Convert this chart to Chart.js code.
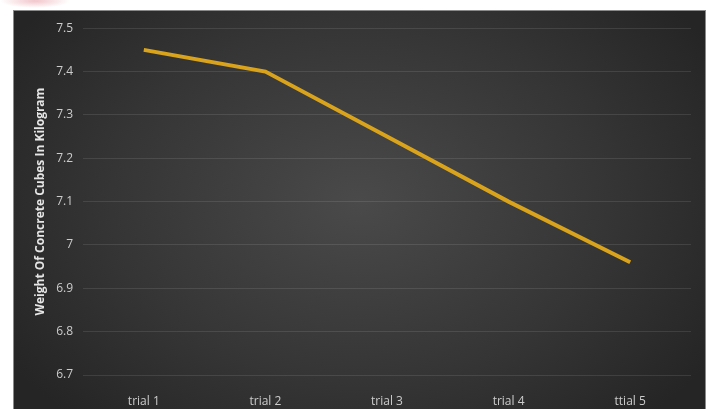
<!DOCTYPE html>
<html>
<head>
<meta charset="utf-8">
<script src="https://cdn.jsdelivr.net/npm/chart.js@4"></script>
<style>
    html, body { margin: 0; padding: 0; background: #fff; width: 709px; height: 409px; overflow: hidden; }
    #smudge {
        position: absolute; left: 0; top: -6px; width: 70px; height: 14px;
        background: radial-gradient(ellipse at center, rgba(230,150,160,0.55), rgba(255,255,255,0) 70%);
    }
    #panel {
        position: absolute; left: 13px; top: 10px; width: 693px; height: 399px;
        background: radial-gradient(ellipse 60% 75% at 50% 48%, #4a4a4a 0%, #353535 60%, #252525 100%);
        border-left: 1px solid #8a8a8a; border-top: 1px solid #8a8a8a; border-right: 1px solid #8a8a8a;
        box-sizing: border-box;
    }
    #chartWeight { position: absolute; left: 0; top: 0; }
</style>
</head>
<body>
<div id="smudge"></div>
<div id="panel">
    <canvas id="chartWeight" width="693" height="399"></canvas>
</div>
<script>
const categories = ["trial 1", "trial 2", "trial 3", "trial 4", "ttial 5"];
const weights = [7.45, 7.40, 7.25, 7.10, 6.96];
const yTicks = [6.7, 6.8, 6.9, 7, 7.1, 7.2, 7.3, 7.4, 7.5];

const labelFont = { family: "'Open Sans', 'Liberation Sans', sans-serif", size: 12 };

new Chart(document.getElementById("chartWeight"), {
    type: "line",
    data: {
        labels: categories,
        datasets: [{
            data: weights,
            borderColor: "#d9a41c",
            borderWidth: 4,
            pointRadius: 0,
            tension: 0,
            fill: false
        }]
    },
    options: {
        responsive: false,
        animation: false,
        layout: { padding: { left: 0, top: 16, right: 16, bottom: 0 } },
        plugins: {
            legend: { display: false },
            tooltip: { enabled: false }
        },
        scales: {
            x: {
                offset: true,
                grid: { display: false },
                border: { display: false },
                ticks: { color: "#cccccc", font: labelFont, padding: 11, maxRotation: 0 },
                afterFit: scale => { scale.height = 35; }
            },
            y: {
                min: 6.7,
                max: 7.5,
                afterBuildTicks: scale => { scale.ticks = yTicks.map(v => ({ value: v })); },
                grid: { color: "rgba(255,255,255,0.10)", lineWidth: 1, drawTicks: false },
                border: { display: false },
                ticks: {
                    color: "#cccccc",
                    font: labelFont,
                    padding: 10,
                    callback: value => String(Math.round(value * 10) / 10)
                },
                title: {
                    display: true,
                    text: "Weight Of Concrete Cubes In Kilogram",
                    color: "#e6e6e6",
                    font: { family: "'Open Sans', 'Liberation Sans', sans-serif", size: 12, weight: "bold" },
                    padding: { top: 19, bottom: 0 }
                },
                afterFit: scale => { scale.width = 69; }
            }
        }
    }
});
</script>
</body>
</html>
